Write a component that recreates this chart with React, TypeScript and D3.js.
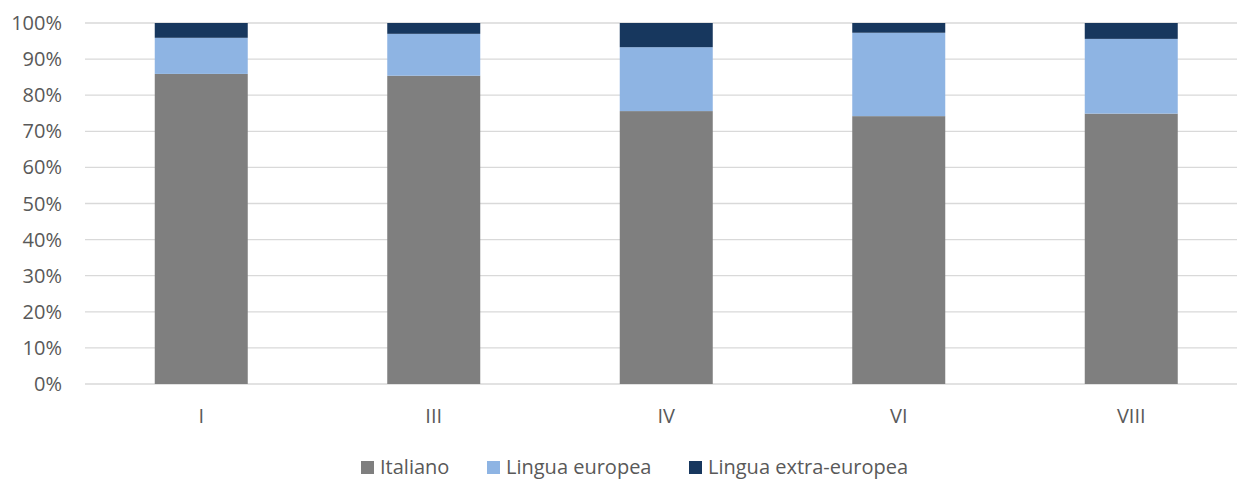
import React from 'react';
import * as d3 from 'd3';

const categories = ['I', 'III', 'IV', 'VI', 'VIII'];
const italiano = [85.9, 85.4, 75.6, 74.2, 74.9];
const linguaEuropea = [10.0, 11.6, 17.7, 23.1, 20.7];
const linguaExtra = [4.1, 3.0, 6.7, 2.7, 4.4];
const seriesNames = ['Italiano', 'Lingua europea', 'Lingua extra-europea'];
const colors = ['#7f7f7f', '#8eb4e3', '#17375e'];
const yTicks = [0, 10, 20, 30, 40, 50, 60, 70, 80, 90, 100];

const width = 1237;
const height = 479;
const font = "'Open Sans', sans-serif";
const fontSize = 20;

const App = () => {
  const x = d3.scaleBand().domain(categories).range([85, 1247.5]).paddingInner(0.6).paddingOuter(0.3);
  const y = d3.scaleLinear().domain([0, 100]).range([384, 23]);

  const rows = categories.map((c, i) => ({
    cat: c,
    Italiano: italiano[i],
    'Lingua europea': linguaEuropea[i],
    'Lingua extra-europea': linguaExtra[i],
  }));
  const stacked = d3.stack<any>().keys(seriesNames)(rows);

  // legend item left edges
  const legendX = [361, 487, 689];

  return (
    <svg width={width} height={height} style={{ position: 'absolute', left: 0, top: 0, background: '#fff' }}>
      {yTicks.map(t => (
        <g key={t}>
          <line x1={85} x2={1237} y1={y(t)} y2={y(t)} stroke="#d9d9d9" strokeWidth={1.3} />
          <text x={62} y={y(t) + 7} textAnchor="end" fontFamily={font} fontSize={fontSize} fill="#595959">{t}%</text>
        </g>
      ))}
      {stacked.map((s, si) => (
        <g key={s.key} fill={colors[si]}>
          {s.map((d, i) => (
            <rect key={i} x={x(categories[i])} width={x.bandwidth()} y={y(d[1])} height={y(d[0]) - y(d[1])} />
          ))}
        </g>
      ))}
      {categories.map(c => (
        <text key={c} x={(x(c) as number) + x.bandwidth() / 2} y={423} textAnchor="middle" fontFamily={font} fontSize={fontSize} fill="#595959">{c}</text>
      ))}
      {seriesNames.map((n, i) => (
        <g key={n}>
          <rect x={legendX[i]} y={461} width={13} height={13} fill={colors[i]} />
          <text x={legendX[i] + 19} y={473.5} fontFamily={font} fontSize={fontSize} fill="#595959">{n}</text>
        </g>
      ))}
    </svg>
  );
};

export default App;
